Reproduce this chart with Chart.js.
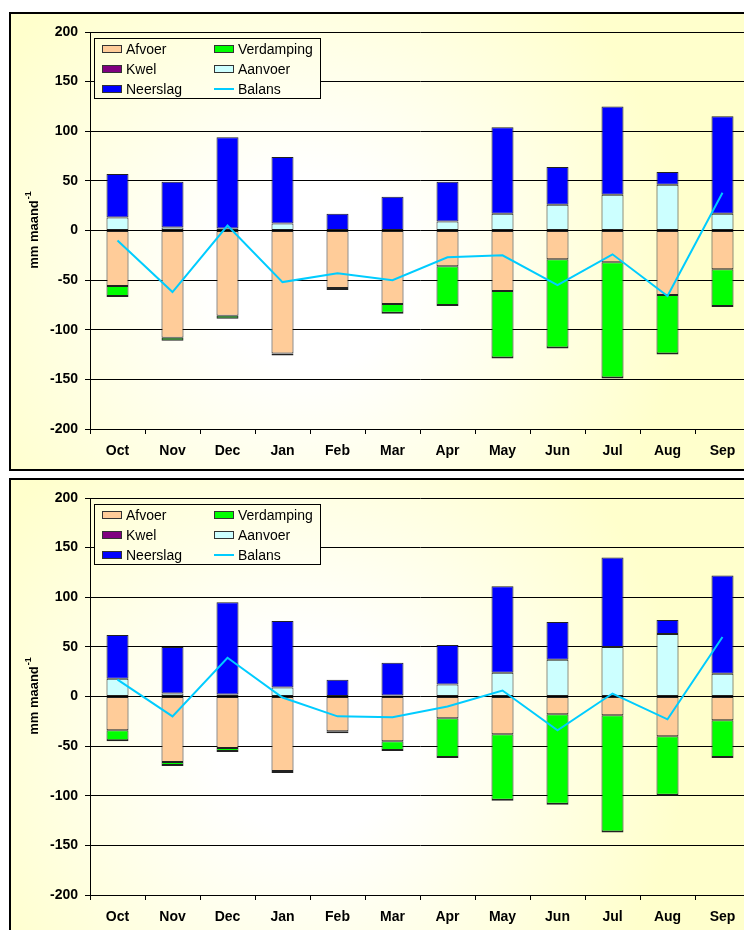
<!DOCTYPE html>
<html lang="nl">
<head>
<meta charset="UTF-8">
<title>Waterbalans per maand</title>
<script src="https://cdn.jsdelivr.net/npm/chart.js"></script>
<style>
    html, body { margin: 0; padding: 0; background: #fff; width: 744px; height: 930px; overflow: hidden; }
    .frame { position: absolute; left: 9px; width: 739px; height: 455px; border: 2px solid #000; }
    #frame1 { top: 12px; }
    #frame2 { top: 478px; }
    canvas { display: block; }
</style>
</head>
<body>
<div class="frame" id="frame1"><canvas id="chart1" width="739" height="455"></canvas></div>
<div class="frame" id="frame2"><canvas id="chart2" width="739" height="455"></canvas></div>

<script>
    const months = ['Oct', 'Nov', 'Dec', 'Jan', 'Feb', 'Mar', 'Apr', 'May', 'Jun', 'Jul', 'Aug', 'Sep'];
    const yTicks = [-200, -150, -100, -50, 0, 50, 100, 150, 200];

    // bovenste grafiek (mm per maand)
    const afvoer1     = [-56, -108, -86, -124, -58, -74, -36, -61, -29, -32, -65, -39];
    const verdamping1 = [-11, -3, -3, -2, -2, -10, -40, -68, -90, -117, -60, -38];
    const kwel1       = [0, 0, 0, 0, 0, 0, 0, 0, 0, 0, 0, 0];
    const aanvoer1    = [13, 3, 2, 7, 0, 0, 9, 17, 26, 36, 46, 17];
    const neerslag1   = [44, 46, 92, 67, 17, 34, 40, 87, 38, 89, 13, 98];
    const balans1     = [-10, -62, 5, -52, -43, -50, -27, -25, -55, -24, -66, 38];

    // onderste grafiek
    const afvoer2     = [-34, -66, -52, -75, -35, -45, -22, -38, -18, -19, -40, -24];
    const verdamping2 = [-11, -4, -4, -2, -2, -10, -40, -67, -91, -118, -60, -38];
    const kwel2       = [0, 0, 0, 0, 0, 0, 0, 0, 0, 0, 0, 0];
    const aanvoer2    = [18, 3, 2, 9, 0, 1, 12, 24, 37, 50, 63, 23];
    const neerslag2   = [44, 47, 93, 67, 17, 33, 40, 87, 38, 90, 14, 99];
    const balans2     = [17, -20, 39, -1, -20, -21, -10, 6, -34, 3, -23, 60];

    const FONT = '"Liberation Sans", Arial, sans-serif';
    Chart.defaults.font.family = FONT;

    // pale yellow fill, whitest towards the middle
    function paperFill(ctx) {
        const g = ctx.createRadialGradient(300, 260, 0, 300, 260, 470);
        g.addColorStop(0, '#ffffff');
        g.addColorStop(0.2, '#ffffff');
        g.addColorStop(0.8, '#ffffcc');
        g.addColorStop(1, '#ffffcc');
        return g;
    }

    const paper = {
        id: 'paper',
        beforeDraw(chart) {
            const ctx = chart.ctx;
            ctx.save();
            ctx.fillStyle = paperFill(ctx);
            ctx.fillRect(0, 0, chart.width, chart.height);
            ctx.restore();
        }
    };

    // two-column legend in a box at the top left of the plot
    const boxLegend = {
        id: 'boxLegend',
        afterDraw(chart) {
            const { ctx, chartArea } = chart;
            const x0 = chartArea.left + 4, y0 = chartArea.top + 6;
            ctx.save();
            ctx.fillStyle = paperFill(ctx);
            ctx.fillRect(x0, y0, 226, 60);
            ctx.strokeStyle = '#000';
            ctx.lineWidth = 1;
            ctx.strokeRect(x0 + 0.5, y0 + 0.5, 226, 60);
            ctx.font = '14px ' + FONT;
            ctx.textBaseline = 'middle';
            chart.data.datasets.forEach((ds, i) => {
                const col = i % 2, row = Math.floor(i / 2);
                const sx = x0 + (col ? 120 : 8);
                const cy = y0 + 11 + row * 20;
                if (ds.type === 'line') {
                    ctx.strokeStyle = ds.borderColor;
                    ctx.lineWidth = 2;
                    ctx.beginPath();
                    ctx.moveTo(sx, cy);
                    ctx.lineTo(sx + 20, cy);
                    ctx.stroke();
                } else {
                    ctx.fillStyle = ds.backgroundColor;
                    ctx.fillRect(sx, cy - 4, 20, 8);
                    ctx.strokeStyle = '#333';
                    ctx.lineWidth = 1;
                    ctx.strokeRect(sx + 0.5, cy - 3.5, 19, 7);
                }
                ctx.fillStyle = '#000';
                ctx.fillText(ds.label, sx + 24, cy + 1);
            });
            ctx.restore();
        }
    };

    // rotated y title with superscript -1
    const yTitle = {
        id: 'yTitle',
        afterDraw(chart) {
            const { ctx, chartArea } = chart;
            const main = 'mm maand', sup = '-1';
            ctx.save();
            ctx.translate(23, (chartArea.top + chartArea.bottom) / 2);
            ctx.rotate(-Math.PI / 2);
            ctx.fillStyle = '#000';
            ctx.textBaseline = 'middle';
            ctx.font = 'bold 13px ' + FONT;
            const w = ctx.measureText(main).width;
            ctx.font = 'bold 9px ' + FONT;
            const ws = ctx.measureText(sup).width;
            const start = -(w + ws) / 2;
            ctx.font = 'bold 13px ' + FONT;
            ctx.fillText(main, start, 0);
            ctx.font = 'bold 9px ' + FONT;
            ctx.fillText(sup, start + w + 1, -5);
            ctx.restore();
        }
    };

    function waterDatasets(afvoer, verdamping, kwel, aanvoer, neerslag, balans) {
        // no outline for empty segments, so zero values leave no stripe
        const bar = (label, data, color, edge) => ({
            type: 'bar', label, data,
            backgroundColor: color,
            borderColor: '#222',
            borderWidth: c => (c.raw ? edge : 0),
            borderSkipped: false,
            stack: 'water',
            order: 1
        });
        return [
            bar('Afvoer', afvoer, '#ffcc99', 1),
            bar('Verdamping', verdamping, '#00ff00', { top: 1, left: 1, right: 1, bottom: 2 }),
            bar('Kwel', kwel, '#800080', 1),
            bar('Aanvoer', aanvoer, '#ccffff', 1),
            bar('Neerslag', neerslag, '#0000ff', 1),
            {
                type: 'line', label: 'Balans', data: balans,
                borderColor: '#00ccff', borderWidth: 2,
                pointRadius: 0, fill: false, tension: 0,
                stack: 'balans', order: 0
            }
        ];
    }

    function makeChart(id, datasets) {
        const tickFont = { family: FONT, size: 14, weight: 'bold' };
        return new Chart(document.getElementById(id), {
            data: { labels: months, datasets },
            options: {
                responsive: false,
                animation: false,
                layout: { padding: { top: 18, left: 0, right: 0, bottom: 0 } },
                plugins: { legend: { display: false }, tooltip: { enabled: false } },
                datasets: { bar: { categoryPercentage: 1, barPercentage: 0.4 } },
                scales: {
                    x: {
                        stacked: true,
                        offset: true,
                        grid: { offset: true, drawOnChartArea: false, drawTicks: true, tickLength: 5, color: '#000' },
                        border: { color: '#000' },
                        ticks: { color: '#000', font: tickFont, padding: 9, maxRotation: 0 },
                        afterFit(s) { s.height = 40; }
                    },
                    y: {
                        stacked: true,
                        min: yTicks[0],
                        max: yTicks[yTicks.length - 1],
                        afterBuildTicks(s) { s.ticks = yTicks.map(v => ({ value: v })); },
                        grid: { color: '#000', tickLength: 5 },
                        border: { color: '#000' },
                        ticks: { color: '#000', font: tickFont, padding: 7 },
                        afterFit(s) { s.width = 79; }
                    }
                }
            },
            plugins: [paper, boxLegend, yTitle]
        });
    }

    makeChart('chart1', waterDatasets(afvoer1, verdamping1, kwel1, aanvoer1, neerslag1, balans1));
    makeChart('chart2', waterDatasets(afvoer2, verdamping2, kwel2, aanvoer2, neerslag2, balans2));
</script>
</body>
</html>
